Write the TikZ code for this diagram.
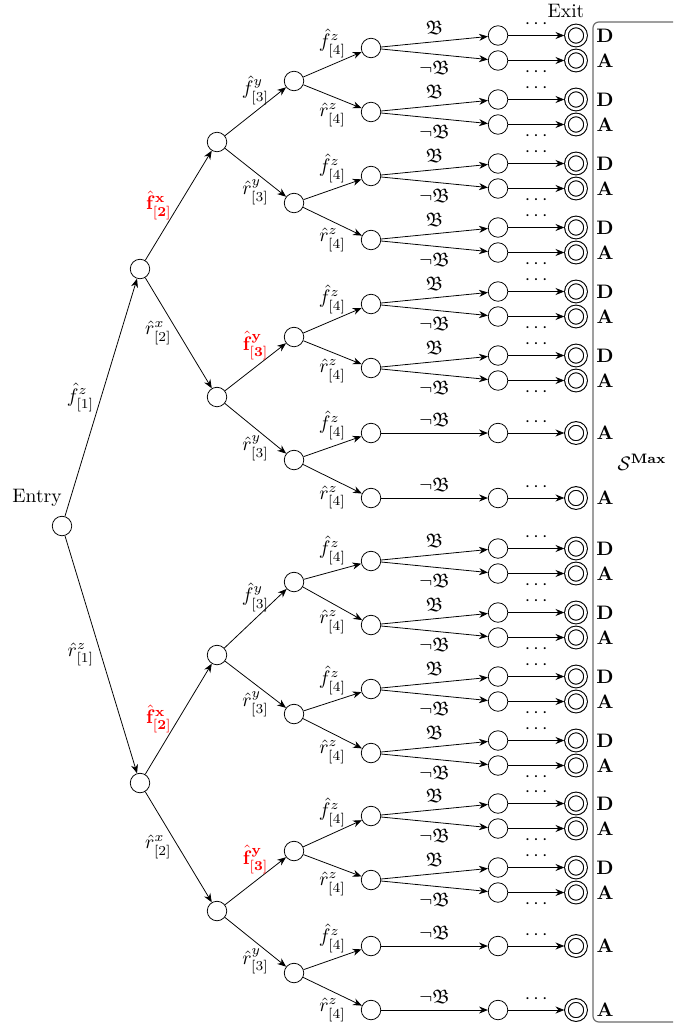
\documentclass[tikz,border=0pt]{standalone}
\usepackage{amssymb}
\usetikzlibrary{arrows.meta}
\newcommand\mkpair[2]{%
  \node[st] (#1) at (371,#2) {};
  \node[st] (#1u) at (498,{#2-12.5}) {};
  \node[st] (#1d) at (498,{#2+12.5}) {};
  \node[fin] (#1U) at (576,{#2-12.5}) {};
  \node[fin] (#1D) at (576,{#2+12.5}) {};
  \node[res] (#1tu) at (605,{#2-12.5}) {D};
  \node[res] (#1td) at (605,{#2+12.5}) {A};
  \draw[ed] (#1) -- node[above] (#1lu) {$\mathfrak{B}$} (#1u);
  \draw[ed] (#1) -- node[below] (#1ld) {$\neg\mathfrak{B}$} (#1d);
  \draw[ed] (#1u) -- node[above] (#1du) {$\cdots$} (#1U);
  \draw[ed] (#1d) -- node[below] (#1dd) {$\cdots$} (#1D);
}
\newcommand\mksingle[2]{%
  \node[st] (#1) at (371,#2) {};
  \node[st] (#1s) at (498,#2) {};
  \node[fin] (#1S) at (576,#2) {};
  \node[res] (#1t) at (605,#2) {A};
  \draw[ed] (#1) -- node[above] (#1l) {$\neg\mathfrak{B}$} (#1s);
  \draw[ed] (#1s) -- node[above] (#1dl) {$\cdots$} (#1S);
}
\newcommand\fourlab[3]{%
  \draw[ed] (#1) -- node[above] (#2lab) {$\hat{f}^{z}_{[4]}$} (#2);
  \draw[ed] (#1) -- node[below] (#3lab) {$\hat{r}^{z}_{[4]}$} (#3);
}
\begin{document}
\begin{tikzpicture}[x=0.5128pt,y=-0.5128pt,
  st/.style={circle,draw,minimum size=10pt,inner sep=0pt},
  fin/.style={circle,draw,line width=0.55pt,double,double distance=1.3pt,minimum size=9.8pt,inner sep=0pt,outer sep=1.1pt},
  ed/.style={-{Stealth[length=4.5pt,width=3.6pt]}},
  res/.style={font=\bfseries,inner sep=0pt},
  hl/.style={text=red}]
\useasboundingbox (0,0) rectangle (673,1028);
% bracket
\draw[gray!85!black,semithick,rounded corners=3pt] (673,22) -- (593,22) -- (593,1022) -- (673,1022);
\node (smax) at (642,462) {$\mathcal{S}^{\mathbf{Max}}$};
% levels 0-3
\node[st] (n0) at (62,526) {};
\node (entry) at (37,498) {Entry};
\node (exit) at (566,11) {Exit};
\node[st] (a) at (140,269) {};
\node[st] (b) at (140,783) {};
\node[st] (aa) at (217,142) {};
\node[st] (ab) at (217,397) {};
\node[st] (ba) at (217,655) {};
\node[st] (bb) at (217,911) {};
\node[st] (aaa) at (294,81) {};
\node[st] (aab) at (294,203) {};
\node[st] (aba) at (294,337) {};
\node[st] (abb) at (294,460) {};
\node[st] (baa) at (294,582) {};
\node[st] (bab) at (294,714) {};
\node[st] (bba) at (294,851) {};
\node[st] (bbb) at (294,973) {};
\draw[ed] (n0) -- node[left] (l1) {$\hat{f}^{z}_{[1]}$} (a);
\draw[ed] (n0) -- node[left] (l2) {$\hat{r}^{z}_{[1]}$} (b);
\draw[ed] (a) -- node[left,hl] (l3) {$\hat{\mathbf{f}}^{\mathbf{x}}_{\mathbf{[2]}}$} (aa);
\draw[ed] (a) -- node[left] (l4) {$\hat{r}^{x}_{[2]}$} (ab);
\draw[ed] (b) -- node[left,hl] (l5) {$\hat{\mathbf{f}}^{\mathbf{x}}_{\mathbf{[2]}}$} (ba);
\draw[ed] (b) -- node[left] (l6) {$\hat{r}^{x}_{[2]}$} (bb);
\draw[ed] (aa) -- node[above] (l7) {$\hat{f}^{y}_{[3]}$} (aaa);
\draw[ed] (aa) -- node[below] (l8) {$\hat{r}^{y}_{[3]}$} (aab);
\draw[ed] (ab) -- node[above,hl] (l9) {$\hat{\mathbf{f}}^{\mathbf{y}}_{\mathbf{[3]}}$} (aba);
\draw[ed] (ab) -- node[below] (l10) {$\hat{r}^{y}_{[3]}$} (abb);
\draw[ed] (ba) -- node[above] (l11) {$\hat{f}^{y}_{[3]}$} (baa);
\draw[ed] (ba) -- node[below] (l12) {$\hat{r}^{y}_{[3]}$} (bab);
\draw[ed] (bb) -- node[above,hl] (l13) {$\hat{\mathbf{f}}^{\mathbf{y}}_{\mathbf{[3]}}$} (bba);
\draw[ed] (bb) -- node[below] (l14) {$\hat{r}^{y}_{[3]}$} (bbb);
% level 4 and beyond
\mkpair{p1}{48}
\mkpair{p2}{112}
\mkpair{p3}{176}
\mkpair{p4}{240}
\mkpair{p5}{304}
\mkpair{p6}{368}
\mksingle{s1}{433}
\mksingle{s2}{498}
\mkpair{p7}{561}
\mkpair{p8}{625}
\mkpair{p9}{689}
\mkpair{p10}{753}
\mkpair{p11}{816}
\mkpair{p12}{880}
\mksingle{s3}{946}
\mksingle{s4}{1010}
\fourlab{aaa}{p1}{p2}
\fourlab{aab}{p3}{p4}
\fourlab{aba}{p5}{p6}
\fourlab{abb}{s1}{s2}
\fourlab{baa}{p7}{p8}
\fourlab{bab}{p9}{p10}
\fourlab{bba}{p11}{p12}
\fourlab{bbb}{s3}{s4}
\end{tikzpicture}
\end{document}
